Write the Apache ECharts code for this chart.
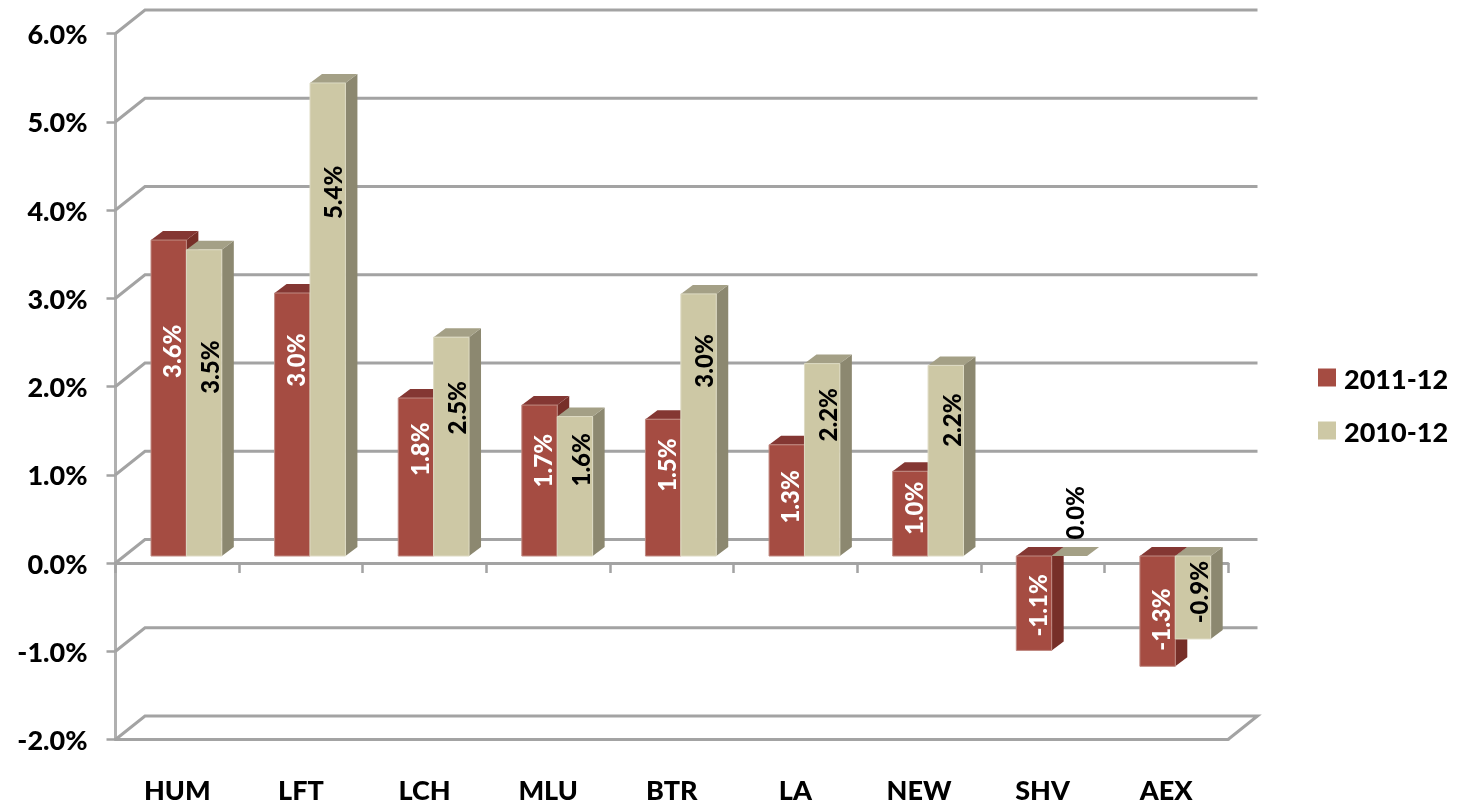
<!DOCTYPE html>
<html>
<head>
<meta charset="utf-8">
<style>
  html, body { margin: 0; padding: 0; background: #fff; }
  #chart { width: 1457px; height: 807px; }
</style>
<script src="https://cdn.jsdelivr.net/npm/echarts@6/dist/echarts.min.js"></script>
</head>
<body>
<div id="chart"></div>
<script>
const categories = ['HUM', 'LFT', 'LCH', 'MLU', 'BTR', 'LA', 'NEW', 'SHV', 'AEX']
const yTicks = [-2, -1, 0, 1, 2, 3, 4, 5, 6]

const values2011 = [3.58, 2.98, 1.79, 1.71, 1.55, 1.26, 0.96, -1.07, -1.25]
const labels2011 = ['3.6%', '3.0%', '1.8%', '1.7%', '1.5%', '1.3%', '1.0%', '-1.1%', '-1.3%']

const values2010 = [3.47, 5.36, 2.48, 1.58, 2.97, 2.18, 2.16, 0, -0.94]
const labels2010 = ['3.5%', '5.4%', '2.5%', '1.6%', '3.0%', '2.2%', '2.2%', '0.0%', '-0.9%']

// where each rotated label sits, in axis units above the bar base (excel places them oddly)
const labelLevel2011 = [2.32, 2.22, 1.21, 1.08, 1.03, 0.67, 0.54, -0.56, -0.72]
const labelLevel2010 = [2.14, 4.12, 1.68, 1.09, 2.21, 1.6, 1.54, 0.49, -0.41]

const WALL_DX = 29.5
const WALL_DY = -23.5
const BAR_DX = 12
const BAR_DY = -9
const BASE_DY = -7
const BAR_W = 35.4
const LINE = '#a3a3a3'
const FONT = 'Lato'

const chart = echarts.init(document.getElementById('chart'))

const poly = (points, fill) => ({ type: 'polygon', shape: { points }, style: { fill, stroke: null } })

const barSeries = (name, values, labels, levels, startOffset, labelDx, colors, labelColor) => ({
  name,
  type: 'custom',
  z: 3,
  silent: true,
  itemStyle: { color: colors.front },
  data: values.map((v, i) => [i, v]),
  encode: { x: 0, y: 1 },
  renderItem: (params, api) => {
    const i = api.value(0)
    const v = api.value(1)
    const cx = api.coord([i, 0])[0]
    const x0 = cx + startOffset
    const x1 = x0 + BAR_W
    const yBase = api.coord([i, 0])[1] + BASE_DY
    const yVal = api.coord([i, v])[1] + BASE_DY
    const top = Math.min(yBase, yVal)
    const bot = Math.max(yBase, yVal)
    const labelAt = api.coord([i, levels[i]])
    return {
      type: 'group',
      children: [
        poly([[x1, top], [x1 + BAR_DX, top + BAR_DY], [x1 + BAR_DX, bot + BAR_DY], [x1, bot]], colors.side),
        poly([[x0, top], [x1, top], [x1 + BAR_DX, top + BAR_DY], [x0 + BAR_DX, top + BAR_DY]], colors.top),
        {
          type: 'rect',
          shape: { x: x0, y: top, width: BAR_W, height: bot - top },
          style: { fill: colors.front, stroke: bot > top ? colors.edge : null, lineWidth: 1 }
        },
        {
          type: 'text',
          x: x0 + BAR_W / 2 + labelDx,
          y: labelAt[1] + BASE_DY,
          rotation: Math.PI / 2,
          z2: 10,
          style: {
            text: labels[i],
            x: 0,
            y: 0,
            align: 'center',
            verticalAlign: 'middle',
            fill: labelColor,
            font: '900 24px ' + FONT
          }
        }
      ]
    }
  }
})

const boldText = { fontSize: 27, fontWeight: 900, color: '#000', fontFamily: FONT }

const option = {
  backgroundColor: '#fff',
  animation: false,
  textStyle: { fontFamily: FONT },
  grid: { left: 115.5, right: 229, top: 33.5, bottom: 67.5 },
  legend: {
    data: ['2011-12', '2010-12'],
    orient: 'vertical',
    left: 1318,
    top: 367,
    icon: 'rect',
    itemWidth: 18,
    itemHeight: 18,
    itemGap: 26,
    padding: 0,
    formatter: name => '{a|' + name + '}',
    textStyle: { ...boldText, rich: { a: { ...boldText, padding: [6, 0, 0, 3] } } }
  },
  xAxis: [
    {
      type: 'category',
      data: categories,
      axisLine: { onZero: true, lineStyle: { color: LINE, width: 3 } },
      axisTick: { show: true, length: 10, lineStyle: { color: LINE, width: 2.5 } },
      axisLabel: { show: false }
    },
    {
      type: 'category',
      position: 'bottom',
      data: categories,
      axisLine: { onZero: false, lineStyle: { color: LINE, width: 3 } },
      axisTick: { show: false },
      axisLabel: { margin: 38, ...boldText }
    }
  ],
  yAxis: {
    type: 'value',
    min: -2,
    max: 6,
    interval: 1,
    axisLine: { show: true, onZero: false, lineStyle: { color: '#b0b0b0', width: 3 } },
    axisTick: { show: true, length: 9, lineStyle: { color: LINE, width: 2.5 } },
    axisLabel: {
      margin: 28,
      ...boldText,
      formatter: v => '{a|' + v.toFixed(1) + '%}',
      rich: { a: { ...boldText, padding: [4, 0, 0, 0] } }
    },
    splitLine: { show: false }
  },
  series: [
    {
      type: 'custom',
      name: 'wall',
      z: 1,
      silent: true,
      data: yTicks.map(v => [0, v]),
      encode: { x: 0, y: 1 },
      renderItem: (params, api) => {
        const y = api.coord([0, api.value(1)])[1]
        const left = params.coordSys.x
        const right = left + params.coordSys.width
        const points = [[left, y], [left + WALL_DX, y + WALL_DY], [right + WALL_DX, y + WALL_DY]]
        if (api.value(1) === yTicks[0]) points.push([right, y])
        return { type: 'polyline', shape: { points }, style: { stroke: LINE, lineWidth: 3, fill: null } }
      }
    },
    barSeries('2011-12', values2011, labels2011, labelLevel2011, -26.3, 5,
      { front: '#a54c42', top: '#843733', side: '#772f28', edge: '#c08a82' }, '#fff'),
    barSeries('2010-12', values2010, labels2010, labelLevel2010, 9.1, 7,
      { front: '#cdc8a5', top: '#a4a086', side: '#8c8870', edge: '#dedbc4' }, '#000')
  ]
}

chart.setOption(option)
</script>
</body>
</html>
